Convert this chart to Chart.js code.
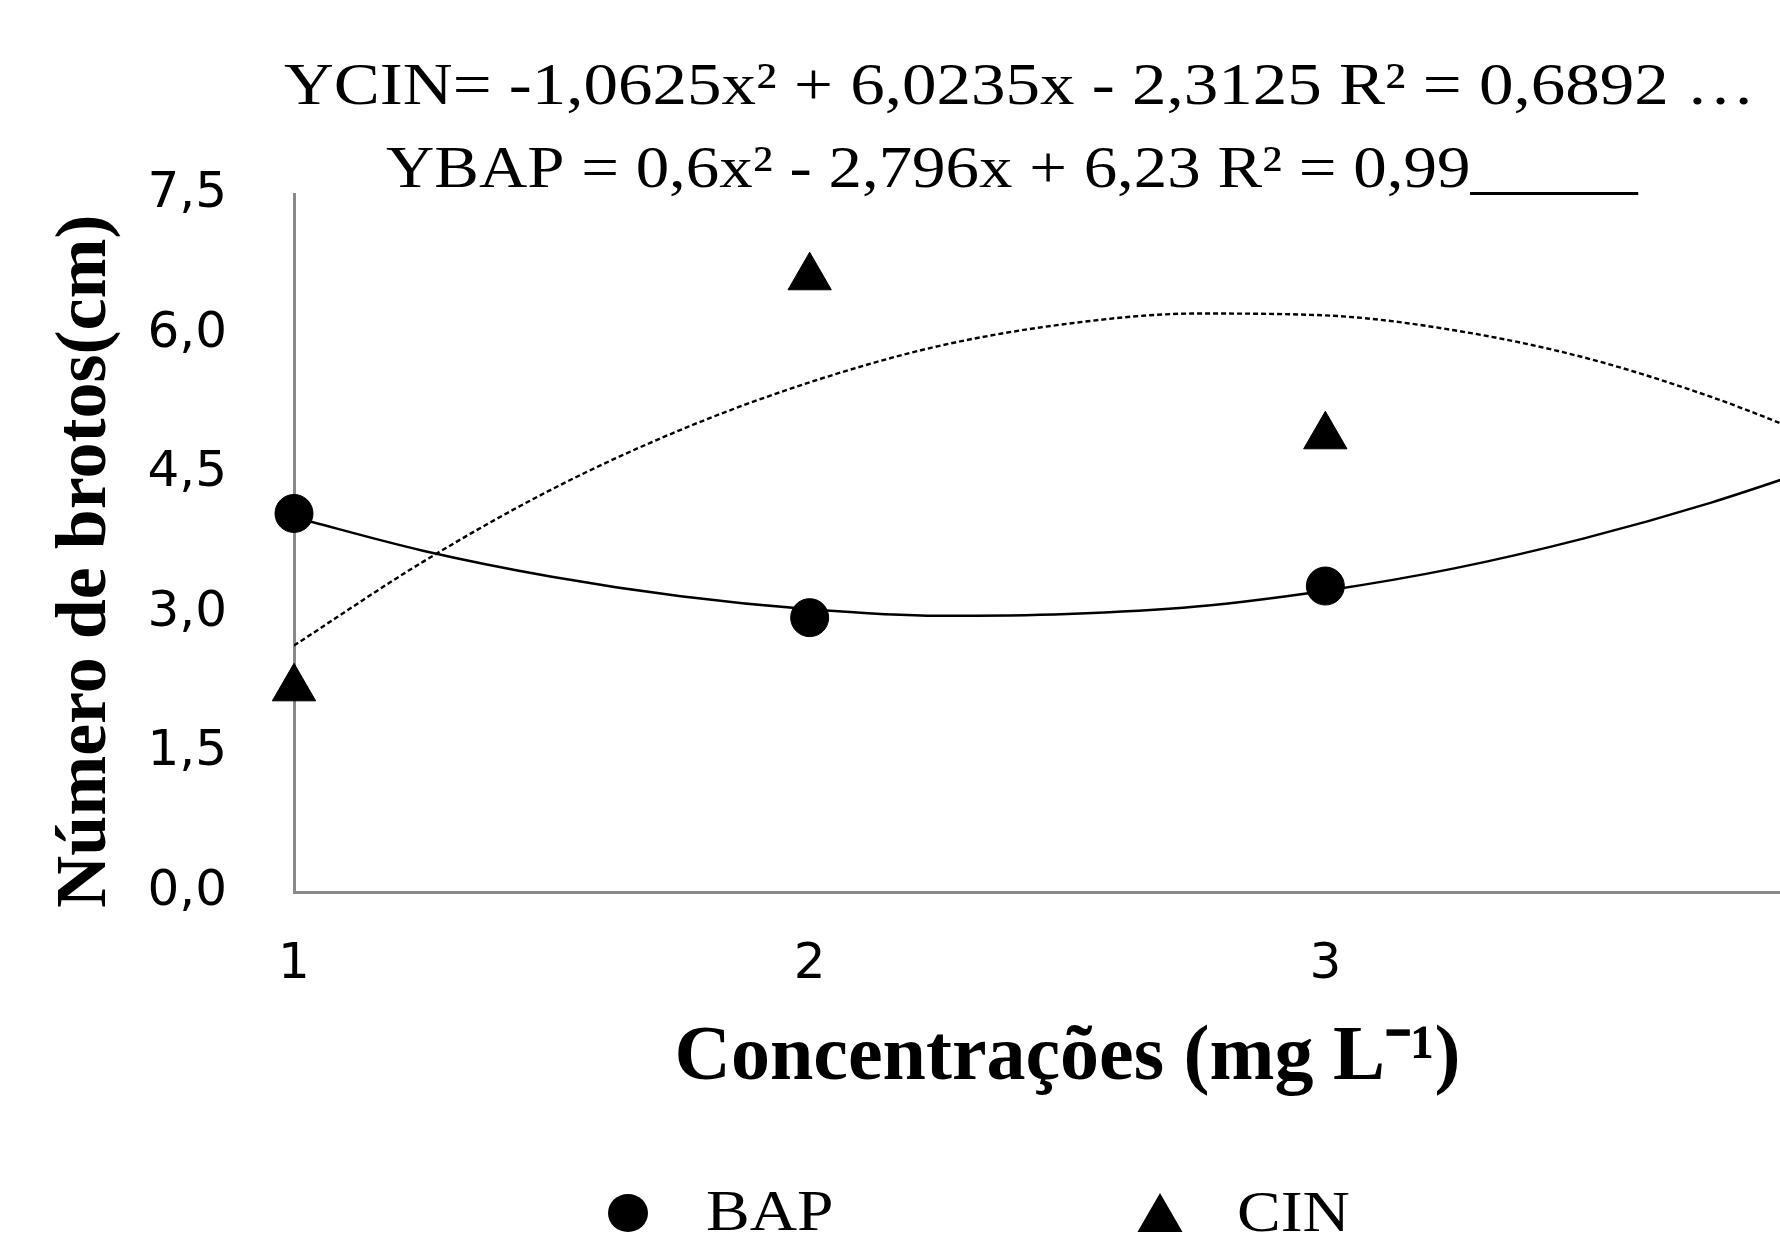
<!DOCTYPE html>
<html>
<head>
<meta charset="utf-8">
<script src="https://cdn.jsdelivr.net/npm/chart.js@4.4.1/dist/chart.umd.min.js"></script>
<style>
html,body{margin:0;padding:0;background:#fff;overflow:hidden;width:1780px;height:1237px}
#wrap{position:absolute;left:0;top:0;width:2030px;height:1237px}
canvas{display:block}
</style>
</head>
<body>
<div id="wrap"><canvas id="c" width="2030" height="1237"></canvas></div>
<script>
// ---- data ----
const concentrations = [1, 2, 3, 4];
const bapValues = [4.07, 2.95, 3.29, 4.61];
const cinValues = [2.19, 6.61, 4.90, 5.18];

const trendX   = [1, 1.25, 1.5, 1.75, 2, 2.25, 2.5, 2.75, 3, 3.25, 3.5, 3.75, 4];
const bapTrend = [4.03, 3.67, 3.39, 3.18, 3.04, 2.97, 2.99, 3.07, 3.24, 3.48, 3.80, 4.19, 4.65];
const cinTrend = [2.65, 3.55, 4.33, 4.97, 5.48, 5.87, 6.11, 6.22, 6.20, 6.04, 5.75, 5.32, 4.78];

const yTickLabels = ['0,0', '1,5', '3,0', '4,5', '6,0', '7,5'];
const xTickLabels = ['1', '2', '3', '4'];

const equationCIN = 'YCIN= -1,0625x² + 6,0235x - 2,3125 R² = 0,6892 …';
const equationBAP = 'YBAP = 0,6x² - 2,796x + 6,23 R² = 0,99_____';
const legendLabels = ['BAP', 'CIN'];
const xTitle = 'Concentrações (mg L⁻¹)';
const yTitle = 'Número de brotos(cm)  ';

function stretchText(ctx, text, x, y, k) {
  ctx.save();
  ctx.translate(x, y);
  ctx.scale(k, 1);
  ctx.fillText(text, 0, 0);
  ctx.restore();
}

const equationPlugin = {
  id: 'equations',
  afterDraw(chart) {
    const ctx = chart.ctx;
    ctx.save();
    ctx.fillStyle = '#000';
    ctx.textAlign = 'left';
    ctx.textBaseline = 'alphabetic';
    ctx.font = '60px "Liberation Serif"';
    stretchText(ctx, equationCIN, 284, 104, 1.15);
    stretchText(ctx, equationBAP, 386, 187, 1.115);
    ctx.restore();
  }
};

const legendPlugin = {
  id: 'bottomLegend',
  afterDraw(chart) {
    const ctx = chart.ctx;
    ctx.save();
    ctx.fillStyle = '#000';
    // circle marker
    ctx.beginPath();
    ctx.ellipse(628, 1213, 20, 19, 0, 0, Math.PI * 2);
    ctx.fill();
    // triangle marker
    const r = 26, cx = 1160, cy = 1219;
    ctx.beginPath();
    for (let i = 0; i < 3; i++) {
      const a = i * 2 * Math.PI / 3;
      const px = cx + Math.sin(a) * r, py = cy - Math.cos(a) * r;
      if (i === 0) ctx.moveTo(px, py); else ctx.lineTo(px, py);
    }
    ctx.closePath();
    ctx.fill();
    ctx.font = '58px "Liberation Serif"';
    ctx.textBaseline = 'alphabetic';
    ctx.textAlign = 'left';
    stretchText(ctx, legendLabels[0], 706, 1230, 1.13);
    stretchText(ctx, legendLabels[1], 1237, 1231, 1.13);
    ctx.restore();
  }
};

const toPts = (xs, ys) => xs.map((x, i) => ({x: x, y: ys[i]}));

new Chart(document.getElementById('c'), {
  type: 'scatter',
  data: {
    datasets: [
      {
        label: 'BAP (tendência)',
        data: toPts(trendX, bapTrend),
        showLine: true,
        borderColor: '#000',
        borderWidth: 2.5,
        pointRadius: 0,
        cubicInterpolationMode: 'monotone',
        order: 3
      },
      {
        label: 'CIN (tendência)',
        data: toPts(trendX, cinTrend),
        showLine: true,
        borderColor: '#000',
        borderWidth: 2.4,
        borderDash: [5, 3],
        pointRadius: 0,
        cubicInterpolationMode: 'monotone',
        order: 4
      },
      {
        label: 'BAP',
        data: toPts(concentrations, bapValues),
        pointStyle: 'circle',
        pointRadius: 19,
        backgroundColor: '#000',
        borderColor: '#000',
        borderWidth: 1,
        clip: false,
        order: 1
      },
      {
        label: 'CIN',
        data: toPts(concentrations, cinValues),
        pointStyle: 'triangle',
        pointRadius: 25,
        backgroundColor: '#000',
        borderColor: '#000',
        borderWidth: 1,
        clip: false,
        order: 2
      }
    ]
  },
  options: {
    responsive: false,
    animation: false,
    devicePixelRatio: 1,
    layout: {padding: {left: 0, right: 189, top: 194.5, bottom: 131.2}},
    plugins: {legend: {display: false}, tooltip: {enabled: false}},
    scales: {
      x: {
        type: 'linear',
        min: 1,
        max: 4,
        grid: {display: false, drawTicks: false},
        border: {display: true, color: '#898989', width: 3},
        ticks: {
          stepSize: 1,
          padding: 43,
          color: '#000',
          font: {family: 'DejaVu Sans', size: 50},
          callback: (v) => {
            const i = concentrations.indexOf(v);
            return i >= 0 ? xTickLabels[i] : '';
          }
        },
        title: {
          display: true,
          text: xTitle,
          color: '#000',
          font: {family: 'Liberation Serif', size: 78, weight: 'bold'},
          padding: {top: 0, bottom: 0}
        },
        afterFit(scale) { scale.height = 213.8; }
      },
      y: {
        min: 0,
        max: 7.5,
        grid: {display: false, drawTicks: false},
        border: {display: true, color: '#898989', width: 3},
        ticks: {
          stepSize: 1.5,
          padding: 67,
          color: '#000',
          font: {family: 'DejaVu Sans', size: 50},
          callback: (v) => yTickLabels[Math.round(v / 1.5)]
        },
        title: {
          display: true,
          text: yTitle,
          color: '#000',
          font: {family: 'Liberation Serif', size: 72, weight: 'bold'},
          padding: {top: 43.5, bottom: 0}
        },
        afterFit(scale) { scale.width = 294; }
      }
    }
  },
  plugins: [equationPlugin, legendPlugin]
});
</script>
</body>
</html>
